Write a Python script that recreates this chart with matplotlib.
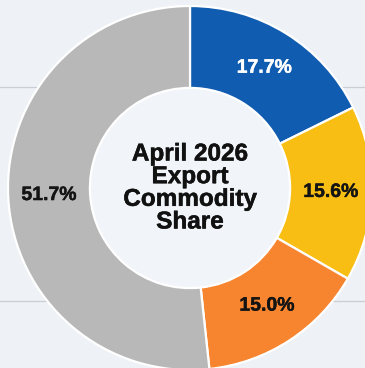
import matplotlib
matplotlib.use("Agg")
import matplotlib.pyplot as plt
import matplotlib.patheffects as pe

# Commodity shares for April 2026 (percent of exports)
categories = ["Commodity A", "Commodity B", "Commodity C", "Other"]
shares = [17.7, 15.6, 15.0, 51.7]
colors = ["#105cb0", "#f8be13", "#f7852f", "#b8b8b8"]
label_colors = ["white", "#141414", "#141414", "#141414"]
title = "April 2026\nExport\nCommodity\nShare"
grid_y = [0.555, -0.621]

plt.rcParams["font.family"] = ["Liberation Sans", "DejaVu Sans"]

bg = "#eef2f6"
fig = plt.figure(figsize=(3.65, 3.68), dpi=100, facecolor=bg)
ax = fig.add_axes([0, 0, 1, 1], facecolor=bg)

wedges, texts, autotexts = ax.pie(
    shares,
    colors=colors,
    startangle=90,
    counterclock=False,
    radius=1.0,
    autopct="%.1f%%",
    pctdistance=0.775,
    wedgeprops=dict(width=0.45, edgecolor="white", linewidth=1.6),
    textprops=dict(fontsize=14, fontweight="bold"),
)
for t, c in zip(autotexts, label_colors):
    t.set_color(c)
    t.set_path_effects([pe.withStroke(linewidth=0.3, foreground=c)])

# light disc in the hole of the ring
hole = plt.Circle((0, 0), 0.55, color="#f1f5f9", zorder=0.5)
ax.add_patch(hole)

ax.text(0, 0.0, title, ha="center", va="center", fontsize=17.5,
        fontweight="bold", color="#111111", linespacing=0.98,
        path_effects=[pe.withStroke(linewidth=0.35, foreground="#111111")])

# faint horizontal grid behind the ring
ax.set_yticks(grid_y)
ax.yaxis.grid(True, color="#c9cdd4", linewidth=0.9)
ax.set_axisbelow(True)
ax.tick_params(left=False, bottom=False, labelleft=False, labelbottom=False)
for s in ax.spines.values():
    s.set_visible(False)

ax.set_aspect("auto")
ax.set_xlim(-190 / 182, 175 / 182)
ax.set_ylim(-180 / 182, 188 / 182)

fig.savefig("out.png", dpi=100, facecolor=bg)
